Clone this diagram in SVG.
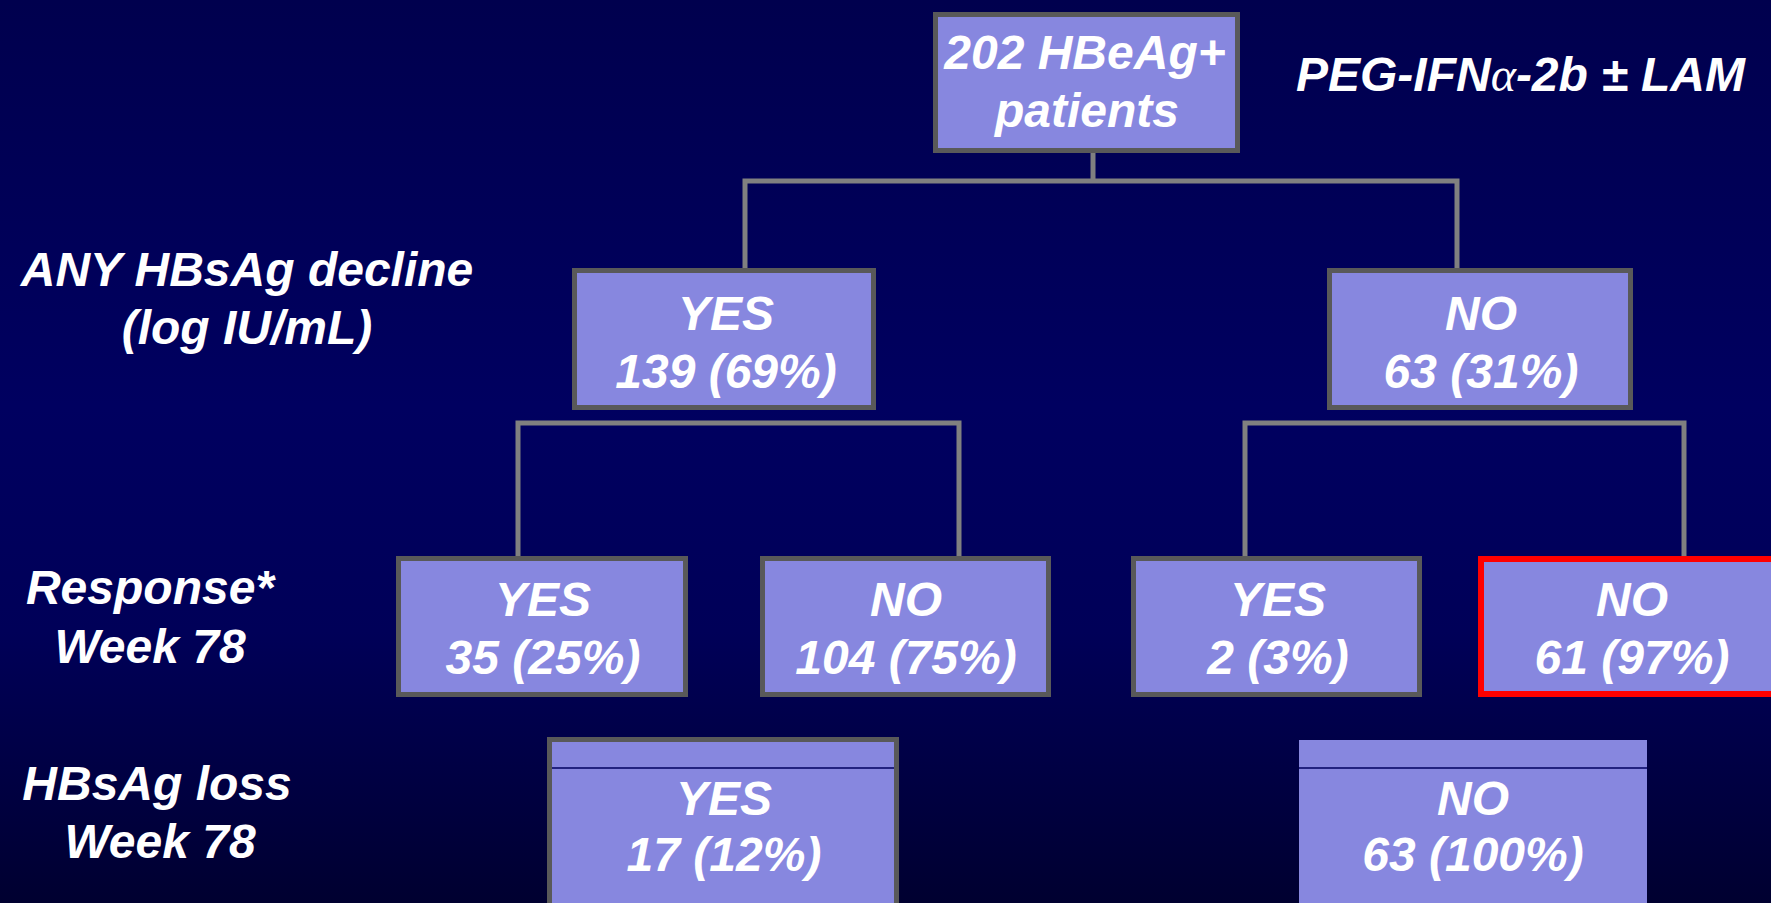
<svg xmlns="http://www.w3.org/2000/svg" width="1771" height="903" viewBox="0 0 1771 903">
  <defs>
    <linearGradient id="bg" x1="0" y1="0" x2="0" y2="1">
      <stop offset="0" stop-color="#00004E"/>
      <stop offset="0.45" stop-color="#000060"/>
      <stop offset="0.7" stop-color="#000058"/>
      <stop offset="1" stop-color="#000030"/>
    </linearGradient>
    <style>
      .box { fill: #8787DF; stroke: #595959; stroke-width: 5; }
      .red { fill: #8787DF; stroke: #FF0000; stroke-width: 6; }
      .plain { fill: #8787DF; }
      .sep { stroke: #000060; stroke-width: 1.5; }
      .conn { fill: none; stroke: #808080; stroke-width: 5; stroke-linecap: square; }
      text { font-family: "Liberation Sans", Arial, sans-serif; font-weight: bold; font-style: italic; font-size: 48px; fill: #FFFFFF; }
      .c { text-anchor: middle; }
    </style>
  </defs>
  <rect x="0" y="0" width="1771" height="903" fill="url(#bg)"/>

  <g id="connectors">
    <path class="conn" d="M1093 153 V181 M745 181 H1457 M745 181 V267 M1457 181 V267"/>
    <path class="conn" d="M518 423 H959 M518 423 V555 M959 423 V555"/>
    <path class="conn" d="M1245 423 H1684 M1245 423 V555 M1684 423 V555"/>
  </g>

  <g id="labels">
    <text class="c" x="247" y="286">ANY HBsAg decline</text>
    <text class="c" x="247" y="344">(log IU/mL)</text>
    <text class="c" x="150" y="604">Response*</text>
    <text class="c" x="150" y="663">Week 78</text>
    <text class="c" x="157" y="800">HBsAg loss</text>
    <text class="c" x="160" y="858">Week 78</text>
    <text x="1296" y="91">PEG-IFN<tspan font-family="'Liberation Serif', serif" font-weight="normal">α</tspan>-2b ± LAM</text>
  </g>

  <g id="root">
    <rect class="box" x="935.5" y="14.5" width="302" height="136"/>
    <text class="c" x="1085" y="69">202 HBeAg+</text>
    <text class="c" x="1087" y="127">patients</text>
  </g>

  <g id="decline-yes">
    <rect class="box" x="574.5" y="270.5" width="299" height="137"/>
    <text class="c" x="726" y="330">YES</text>
    <text class="c" x="726" y="388">139 (69%)</text>
  </g>
  <g id="decline-no">
    <rect class="box" x="1329.5" y="270.5" width="301" height="137"/>
    <text class="c" x="1481" y="330">NO</text>
    <text class="c" x="1481" y="388">63 (31%)</text>
  </g>

  <g id="resp-yes-1">
    <rect class="box" x="398.5" y="558.5" width="287" height="136"/>
    <text class="c" x="543" y="616">YES</text>
    <text class="c" x="543" y="674">35 (25%)</text>
  </g>
  <g id="resp-no-1">
    <rect class="box" x="762.5" y="558.5" width="286" height="136"/>
    <text class="c" x="906" y="616">NO</text>
    <text class="c" x="906" y="674">104 (75%)</text>
  </g>
  <g id="resp-yes-2">
    <rect class="box" x="1133.5" y="558.5" width="286" height="136"/>
    <text class="c" x="1278" y="616">YES</text>
    <text class="c" x="1278" y="674">2 (3%)</text>
  </g>
  <g id="resp-no-2">
    <rect class="red" x="1481" y="559" width="310" height="135"/>
    <text class="c" x="1632" y="616">NO</text>
    <text class="c" x="1632" y="674">61 (97%)</text>
  </g>

  <g id="loss-yes">
    <rect class="box" x="549.5" y="739.5" width="347" height="200"/>
    <line class="sep" x1="552" y1="768" x2="894" y2="768"/>
    <text class="c" x="724" y="815">YES</text>
    <text class="c" x="724" y="871">17 (12%)</text>
  </g>
  <g id="loss-no">
    <rect class="plain" x="1299" y="740" width="348" height="170"/>
    <line class="sep" x1="1299" y1="768" x2="1647" y2="768"/>
    <text class="c" x="1473" y="815">NO</text>
    <text class="c" x="1473" y="871">63 (100%)</text>
  </g>
</svg>
